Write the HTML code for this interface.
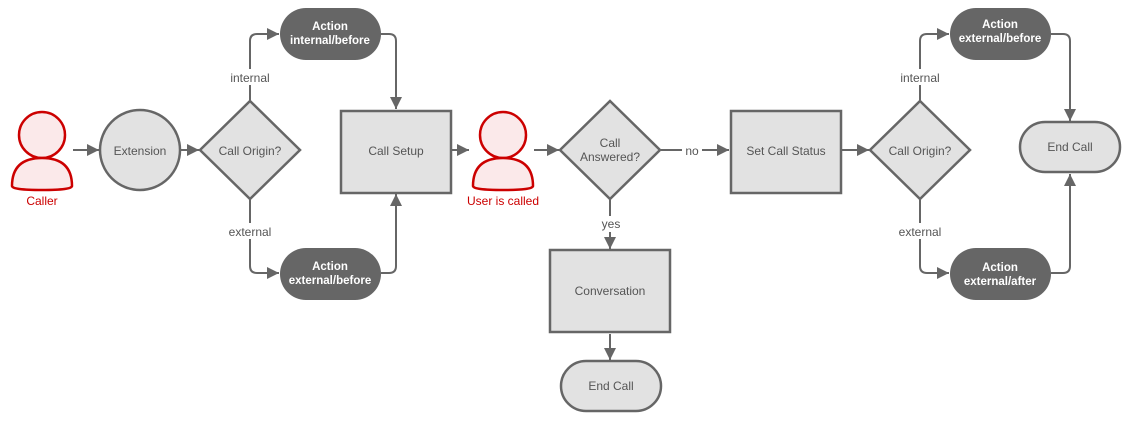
<!DOCTYPE html>
<html><head><meta charset="utf-8"><style>body{margin:0;background:#fff}svg{display:block}</style></head><body>
<svg width="1146" height="431" viewBox="0 0 1146 431" xmlns="http://www.w3.org/2000/svg" font-family="Liberation Sans, Arial, sans-serif" font-size="12">
<defs><marker id="a" viewBox="0 0 10 10" refX="10" refY="5" markerWidth="12" markerHeight="12" markerUnits="userSpaceOnUse" orient="auto"><path d="M0,0L10,5L0,10z" fill="#666"/></marker></defs>
<g fill="none" stroke="#666" stroke-width="2" marker-end="url(#a)">
<path d="M73,150H99"/><path d="M181,150H199"/>
<path d="M250,100V41Q250,34 257,34H279"/>
<path d="M250,200V266Q250,273 257,273H279"/>
<path d="M381,34H389Q396,34 396,41V109"/>
<path d="M381,273H389Q396,273 396,266V194"/>
<path d="M452,150H469"/><path d="M534,150H559"/>
<path d="M661,150H729"/>
<path d="M610,200V249"/><path d="M610,334V360"/>
<path d="M842,150H869"/>
<path d="M920,100V41Q920,34 927,34H949"/>
<path d="M920,200V266Q920,273 927,273H949"/>
<path d="M1051,34H1063Q1070,34 1070,41V121"/>
<path d="M1051,273H1063Q1070,273 1070,266V174"/>
</g>
<g fill="#fff">
<rect x="225" y="69" width="50" height="16"/><rect x="225" y="223" width="50" height="16"/>
<rect x="682" y="142" width="20" height="16"/><rect x="598" y="216" width="24" height="16"/>
<rect x="895" y="69" width="50" height="16"/><rect x="895" y="223" width="50" height="16"/>
</g>
<g fill="#555" text-anchor="middle">
<text x="250" y="82">internal</text><text x="250" y="236">external</text>
<text x="692" y="155">no</text><text x="611" y="228">yes</text>
<text x="920" y="82">internal</text><text x="920" y="236">external</text>
</g>
<g stroke="#cc0000" stroke-width="2.5" fill="#fbe9ea">
<circle cx="42" cy="135" r="23"/><path d="M12,186Q12,158 42,158Q72,158 72,186Q72,190 42,190Q12,190 12,186z"/>
<circle cx="503" cy="135" r="23"/><path d="M473,186Q473,158 503,158Q533,158 533,186Q533,190 503,190Q473,190 473,186z"/>
</g>
<g fill="#cc0000" text-anchor="middle"><text x="42" y="205">Caller</text><text x="503" y="205">User is called</text></g>
<g fill="#e2e2e2" stroke="#666" stroke-width="2.5">
<circle cx="140" cy="150" r="40"/>
<path d="M250,101L300,150L250,199L200,150z"/>
<rect x="341" y="111" width="110" height="82"/>
<path d="M610,101L660,150L610,199L560,150z"/>
<rect x="731" y="111" width="110" height="82"/>
<rect x="550" y="250" width="120" height="82"/>
<rect x="561" y="361" width="100" height="50" rx="25"/>
<path d="M920,101L970,150L920,199L870,150z"/>
<rect x="1020" y="122" width="100" height="50" rx="25"/>
</g>
<g fill="#666">
<rect x="280" y="8" width="101" height="52" rx="26"/><rect x="280" y="248" width="101" height="52" rx="26"/>
<rect x="950" y="8" width="101" height="52" rx="26"/><rect x="950" y="248" width="101" height="52" rx="26"/>
</g>
<g fill="#555" text-anchor="middle">
<text x="140" y="155">Extension</text><text x="250" y="155">Call Origin?</text>
<text x="396" y="155">Call Setup</text>
<text x="610" y="147">Call</text><text x="610" y="161">Answered?</text>
<text x="786" y="155">Set Call Status</text><text x="610" y="295">Conversation</text>
<text x="611" y="390">End Call</text><text x="920" y="155">Call Origin?</text>
<text x="1070" y="151">End Call</text>
</g>
<g fill="#fff" text-anchor="middle" font-weight="bold" font-size="11.5">
<text x="330" y="30">Action</text><text x="330" y="44">internal/before</text>
<text x="330" y="270">Action</text><text x="330" y="284">external/before</text>
<text x="1000" y="28">Action</text><text x="1000" y="42">external/before</text>
<text x="1000" y="271">Action</text><text x="1000" y="285">external/after</text>
</g>
</svg>
</body></html>
